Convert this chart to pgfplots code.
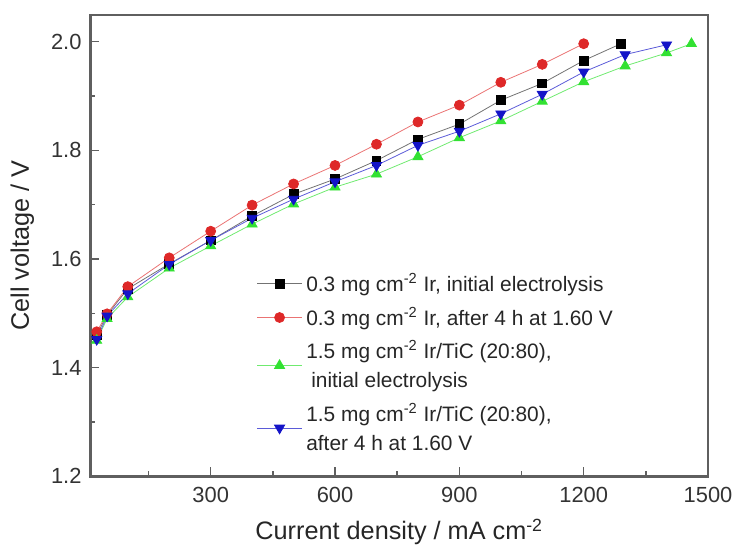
\documentclass[border=0pt]{standalone}
\usepackage{fontspec}
\setmainfont{Liberation Sans}
\usepackage{pgfplots}
\pgfplotsset{compat=1.18}

\definecolor{cBlack}{RGB}{0,0,0}
\definecolor{cRed}{RGB}{222,40,40}
\definecolor{cGreen}{RGB}{50,225,50}
\definecolor{cBlue}{RGB}{20,20,200}
\definecolor{axisgray}{RGB}{95,95,95}

\begin{document}
\begin{tikzpicture}
\begin{axis}[
    scale only axis,
    width=310.5pt, height=232pt,
    xmin=10, xmax=1500,
    ymin=1.2, ymax=2.049,
    xtick={300,600,900,1200,1500},
    minor xtick={150,450,750,1050,1350},
    ytick={1.2,1.4,1.6,1.8,2.0},
    minor ytick={1.3,1.5,1.7,1.9},
    xticklabel style={/pgf/number format/1000 sep={}, yshift=-2pt},
    yticklabel style={/pgf/number format/fixed,/pgf/number format/fixed zerofill,/pgf/number format/precision=1, xshift=-1pt},
    /pgf/number format/assume math mode=true,
    tick align=inside,
    xtick pos=bottom, ytick pos=left,
    major tick length=4.5pt, minor tick length=2.5pt,
    tick style={axisgray, line width=0.7pt},
    axis line style={axisgray, line width=1.3pt},
    tick label style={font=\fontsize{11}{13}\selectfont, text=black!80},
    label style={font=\fontsize{12.7}{15}\selectfont, text=black!85},
    xlabel={Current density / mA cm\textsuperscript{-2}},
    ylabel={Cell voltage / V},
    xlabel style={at={(axis description cs:0.5,0)}, anchor=base, yshift=-32pt},
    ylabel style={at={(axis description cs:0,0.5)}, anchor=base, rotate=0, yshift=31pt},
    legend style={draw=none, fill=none, at={(0.259,0.458)}, anchor=north west,
        font=\fontsize{10.5}{14.5}\selectfont, text=black!85,
        cells={align=left}, row sep=2.3pt},
    legend cell align=left,
    legend image code/.code={\draw[mark repeat=2,mark phase=2] plot coordinates {(0pt,0pt) (11.25pt,0pt) (22.5pt,0pt)};},
    every axis plot/.append style={line width=0.4pt},
]
\addplot[cBlack!55, mark=square*, mark size=2.2pt, mark options={fill=cBlack, draw=cBlack}] coordinates {
(25,1.460) (50,1.497) (100,1.545) (200,1.591) (300,1.634) (400,1.679) (500,1.719)
(600,1.747) (700,1.781) (800,1.820) (900,1.848) (1000,1.892) (1100,1.923)
(1200,1.965) (1290,1.996)};
\addlegendentry{0.3 mg cm\textsuperscript{-2} Ir, initial electrolysis}
\addplot[cRed!65, mark=*, mark size=2.5pt, mark options={fill=cRed, draw=cRed}] coordinates {
(25,1.466) (50,1.499) (100,1.549) (200,1.602) (300,1.651) (400,1.699) (500,1.738)
(600,1.772) (700,1.811) (800,1.852) (900,1.883) (1000,1.925) (1100,1.958)
(1200,1.996)};
\addlegendentry{0.3 mg cm\textsuperscript{-2} Ir, after 4 h at 1.60 V}
\addplot[cGreen!70, mark=triangle*, mark size=2.9pt, mark options={fill=cGreen, draw=cGreen}] coordinates {
(25,1.450) (50,1.490) (100,1.530) (200,1.583) (300,1.624) (400,1.664) (500,1.701)
(600,1.732) (700,1.756) (800,1.788) (900,1.823) (1000,1.854) (1100,1.890)
(1200,1.926) (1300,1.955) (1400,1.979) (1460,1.996)};
\addlegendentry{1.5 mg cm\textsuperscript{-2} Ir/TiC (20:80),\\\hspace*{2.5pt}initial electrolysis}
\addplot[cBlue!70, mark=triangle*, mark size=2.9pt, mark options={rotate=180, fill=cBlue, draw=cBlue}] coordinates {
(25,1.452) (50,1.495) (100,1.536) (200,1.590) (300,1.634) (400,1.675) (500,1.710)
(600,1.742) (700,1.772) (800,1.809) (900,1.835) (1000,1.867) (1100,1.903)
(1200,1.944) (1300,1.976) (1400,1.994)};
\addlegendentry{1.5 mg cm\textsuperscript{-2} Ir/TiC (20:80),\\after 4 h at 1.60 V}
\end{axis}
\path (current axis.south west) ++(-45.5pt,-34pt) rectangle ([shift={(13.5pt,7.5pt)}]current axis.north east);
\end{tikzpicture}
\end{document}
